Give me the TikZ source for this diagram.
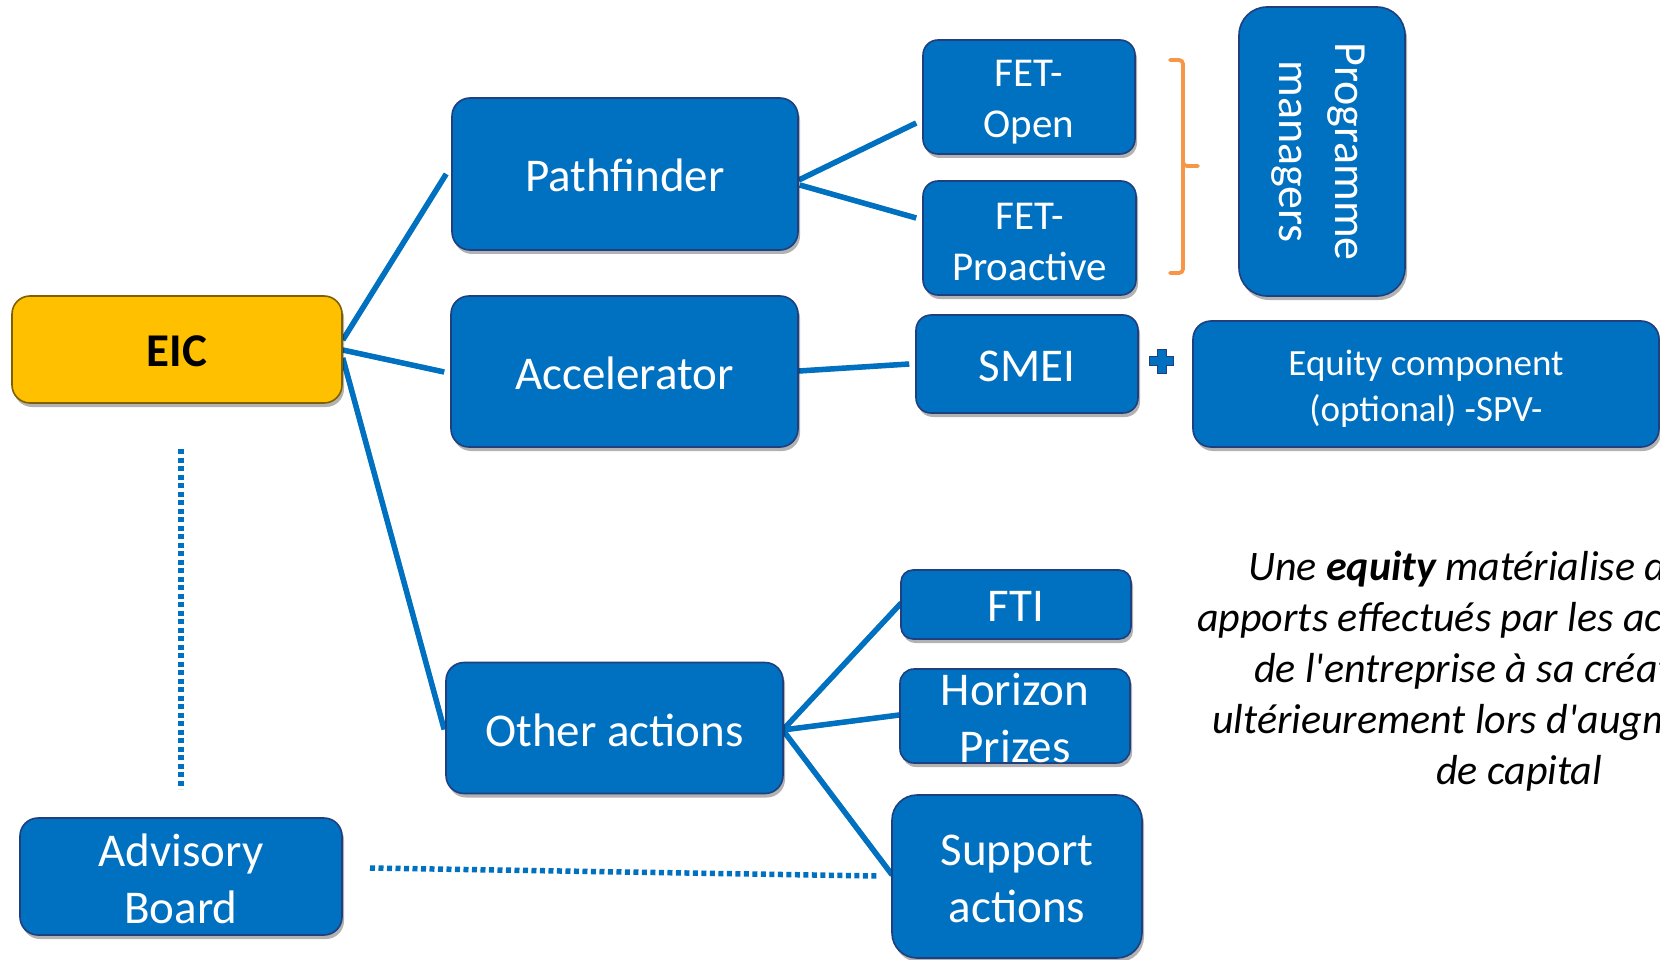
\documentclass[tikz,border=0pt]{standalone}
\usepackage{fontspec}
\setmainfont{Carlito}
\usetikzlibrary{shadows,calc,backgrounds}
\definecolor{boxblue}{HTML}{0070C0}
\definecolor{boxline}{HTML}{1F3F7F}
\definecolor{eicfill}{HTML}{FFC000}
\definecolor{eicline}{HTML}{7F6000}
\definecolor{bracecol}{HTML}{F79646}
\begin{document}
\begin{tikzpicture}[x=1pt,y=-1pt,
  box/.style={draw=boxline, line width=1.6pt, fill=boxblue, rounded corners=18pt,
    inner sep=0pt,
    drop shadow={shadow xshift=2pt, shadow yshift=-4pt, opacity=0.3, fill=black}},
  boxtext/.style={text=white, inner sep=0pt, align=center, font=\fontsize{47}{57}\selectfont},
  fettext/.style={boxtext, font=\fontsize{41}{51}\selectfont},
  conn/.style={draw=boxblue, line width=5.5pt},
  connshadow/.style={draw=black!25, line width=5pt},
  dotline/.style={draw=boxblue, line width=5.5pt, dash pattern=on 5pt off 3.5pt},
  note/.style={anchor=base west, inner sep=0pt, font=\itshape\fontsize{42}{51}\selectfont},
  bracestyle/.style={draw=bracecol, line width=3.8pt, rounded corners=4pt, line cap=round},
]
\useasboundingbox (0,0) rectangle (1660,960);
\clip (0,0) rectangle (1660,960);

% boxes
\node[box, fill=eicfill, draw=eicline, minimum width=330, minimum height=107] (eic) at (177,349.5) {};
\node[box, minimum width=346, minimum height=152] (path) at (625,174) {};
\node[box, minimum width=347, minimum height=151] (acc) at (624.5,371.5) {};
\node[box, minimum width=337, minimum height=131] (oth) at (614.5,728) {};
\node[box, minimum width=322, minimum height=117] (adv) at (181,876.5) {};
\node[box, minimum width=212, minimum height=114, rounded corners=15pt] (fetopen) at (1029,97) {};
\node[box, minimum width=213, minimum height=114, rounded corners=15pt] (fetpro) at (1029.5,238) {};
\node[box, minimum width=166, minimum height=289, rounded corners=28pt] (pm) at (1322,151.5) {};
\node[box, minimum width=222, minimum height=98, rounded corners=15pt] (smei) at (1027,364) {};
\node[box, minimum width=466, minimum height=126] (eq) at (1426,384) {};
\node[box, minimum width=230, minimum height=69, rounded corners=12pt] (fti) at (1016,604.5) {};
\node[box, minimum width=230, minimum height=94, rounded corners=14pt] (hor) at (1015,716) {};
\node[box, minimum width=250, minimum height=163, rounded corners=25pt] (sup) at (1017,876.5) {};

% box texts
\node[boxtext, text=black, font=\fontsize{47}{57}\selectfont\bfseries] (eic-t) at ($(eic.center)+(0,2)$) {EIC};
\node[boxtext] (path-t) at ($(path.center)+(0,1)$) {Pathfinder};
\node[boxtext] (acc-t) at ($(acc.center)+(0,2)$) {Accelerator};
\node[boxtext] (oth-t) at ($(oth.center)+(0,2)$) {Other actions};
\node[boxtext] (adv-t) at ($(adv.center)+(0,2)$) {Advisory\\Board};
\node[fettext] (fetopen-t) at ($(fetopen.center)+(0,5)$) {FET-\\Open};
\node[fettext] (fetpro-t) at ($(fetpro.center)+(0,3.5)$) {FET-\\Proactive};
\node[boxtext, rotate=-90, font=\fontsize{46}{56}\selectfont] (pm-t) at ($(pm.center)+(-4,0)$) {Programme\\managers};
\node[boxtext] (smei-t) at ($(smei.center)+(0,2)$) {SMEI};
\node[boxtext, font=\fontsize{37}{46}\selectfont] (eq-t) at ($(eq.center)+(0,5)$) {Equity component\\(optional) -SPV-};
\node[boxtext] (fti-t) at ($(fti.center)+(0,1.5)$) {FTI};
\node[boxtext] (hor-t) at ($(hor.center)+(0,2)$) {Horizon\\Prizes};
\node[boxtext] (sup-t) at ($(sup.center)+(0,2)$) {Support\\actions};

% connectors
\begin{scope}[on background layer]
\foreach \sty/\dx/\dy in {connshadow/1.5/2.5, conn/0/0} {
\begin{scope}[shift={(\dx,\dy)}]
\draw[\sty] ($(eic.east)+(0,-9.5)$) -- ($(path.west)+(-5,0)$);
\draw[\sty] ($(eic.east)+(0,0.5)$) -- ($(acc.west)+(-6,0.5)$);
\draw[\sty] ($(eic.east)+(0,8.5)$) -- ($(oth.west)+(-1,1.5)$);
\draw[\sty] ($(path.east)+(0,6)$) -- ($(fetopen.west)+(-6,26)$);
\draw[\sty] ($(path.east)+(1,11)$) -- ($(fetpro.west)+(-6,-20)$);
\draw[\sty] ($(acc.east)+(0,-0.5)$) -- ($(smei.west)+(-6,0)$);
\draw[\sty] ($(oth.east)+(-1,2)$) -- ($(fti.west)+(1,-1.5)$);
\draw[\sty] ($(oth.east)+(-1,2)$) -- ($(hor.west)+(0,-1)$);
\draw[\sty] ($(oth.east)+(-1,2)$) -- ($(sup.west)+(1,-1.5)$);
\end{scope}}
\end{scope}

% dotted links
\coordinate (d1) at (181,449);
\coordinate (d2) at (181,789);
\draw[dotline] (d1) -- (d2);
\coordinate (d3) at (370,868);
\coordinate (d4) at (877,876);
\draw[dotline] (d3) -- (d4);

% plus sign
\draw[draw=boxline, fill=boxblue, line width=1pt]
  (1157,349) -- (1166,349) -- (1166,356.5) -- (1173.5,356.5) -- (1173.5,365.5) -- (1166,365.5)
  -- (1166,373) -- (1157,373) -- (1157,365.5) -- (1149.5,365.5) -- (1149.5,356.5) -- (1157,356.5) -- cycle;

% brace
\draw[bracestyle] (1170,60) -| (1183,166) -- (1198,166);
\draw[bracestyle] (1183,160) |- (1170,273);

% note
\node[note] (t1) at (1248,580) {Une \textbf{equity} matérialise des};
\node[note] (t2) at (1197,631) {apports effectués par les actionnaires};
\node[note] (t3) at (1254,682) {de l\textquotesingle entreprise à sa création ou};
\node[note] (t4) at (1212,733) {ultérieurement lors d\textquotesingle augmentations};
\node[note] (t5) at (1436,784) {de capital};
\end{tikzpicture}
\end{document}
